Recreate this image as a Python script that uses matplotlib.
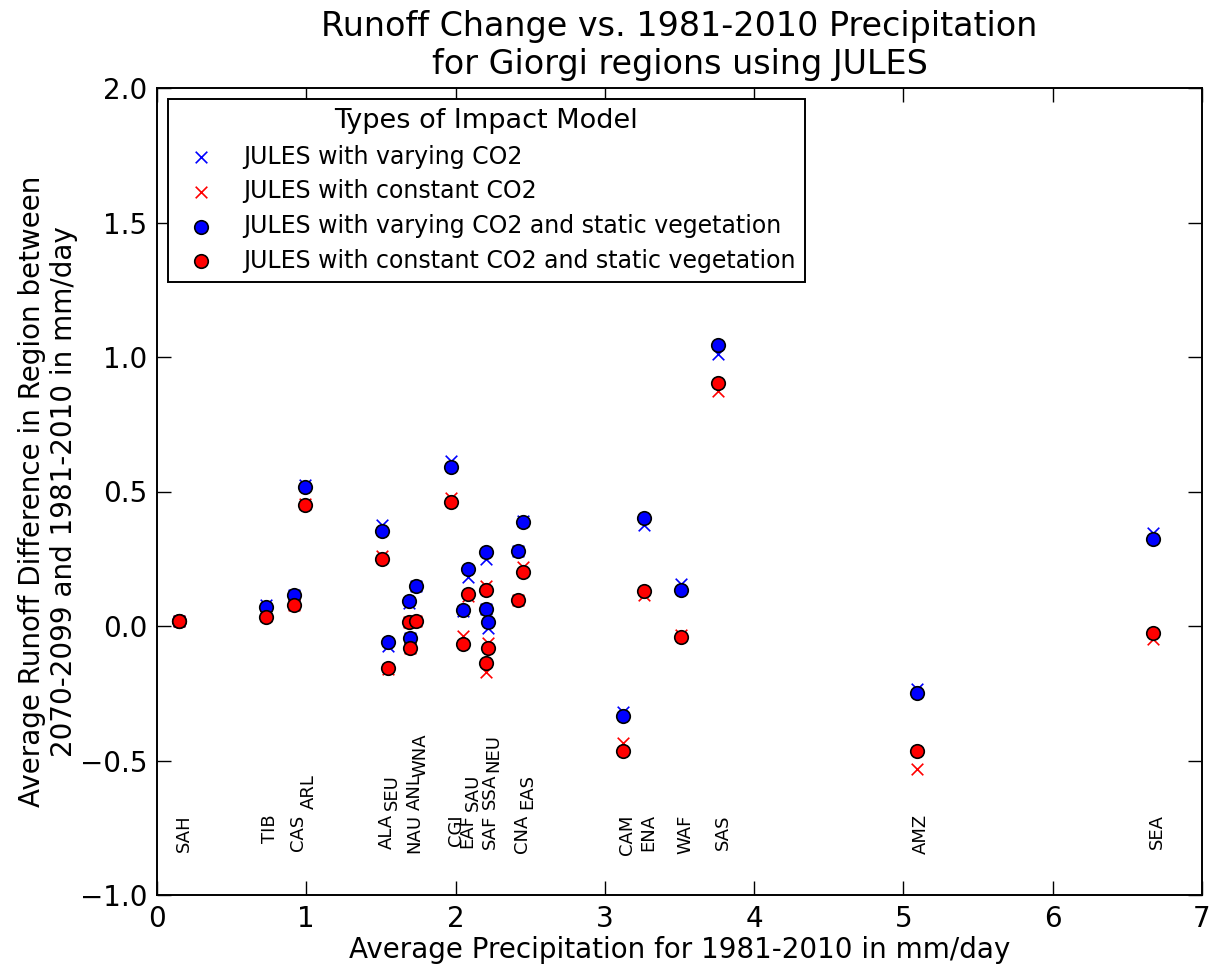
import matplotlib
matplotlib.use("Agg")
import matplotlib.pyplot as plt
import numpy as np

# Giorgi regions, 1981-2010 mean precipitation (mm/day)
regions = ["SAH", "TIB", "CAS", "ARL", "ALA", "SEU", "NAU", "ANL", "WNA",
           "CGI", "EAF", "SAU", "SAF", "SSA", "NEU", "CNA", "EAS",
           "CAM", "ENA", "WAF", "SAS", "AMZ", "SEA"]
precip = [0.15, 0.73, 0.915, 0.99, 1.51, 1.545, 1.69, 1.695, 1.737,
          1.97, 2.051, 2.086, 2.202, 2.202, 2.22, 2.418, 2.452,
          3.12, 3.26, 3.51, 3.76, 5.09, 6.67]

# runoff change 2070-2099 minus 1981-2010 (mm/day)
varying_co2 = [0.02, 0.078, 0.114, 0.525, 0.375, -0.075, 0.085, -0.046, 0.15,
               0.615, 0.055, 0.183, 0.062, 0.25, -0.009, 0.28, 0.39,
               -0.32, 0.375, 0.155, 1.01, -0.235, 0.345]
constant_co2 = [0.02, 0.037, 0.077, 0.455, 0.26, -0.16, 0.014, -0.083, 0.02,
                0.475, -0.037, 0.11, -0.17, 0.15, -0.065, 0.097, 0.22,
                -0.435, 0.115, -0.035, 0.875, -0.53, -0.05]
varying_co2_static = [0.02, 0.072, 0.114, 0.516, 0.353, -0.058, 0.094, -0.046, 0.15,
                      0.59, 0.06, 0.212, 0.062, 0.276, 0.015, 0.28, 0.387,
                      -0.335, 0.40, 0.135, 1.045, -0.25, 0.325]
constant_co2_static = [0.02, 0.035, 0.077, 0.45, 0.25, -0.157, 0.014, -0.083, 0.02,
                       0.46, -0.067, 0.119, -0.139, 0.134, -0.08, 0.097, 0.20,
                       -0.465, 0.13, -0.04, 0.905, -0.465, -0.025]

# stacking level of the region names so close ones don't overlap
label_level = [0, 0, 0, 1, 0, 1, 0, 1, 2,
               0, 0, 1, 0, 1, 2, 0, 1,
               0, 0, 0, 0, 0, 0]

fig = plt.figure(figsize=(12.11, 9.66), dpi=100)
ax = fig.add_axes([157 / 1211, 1 - 895 / 966, 1045 / 1211, 807 / 966])

ax.scatter(precip, varying_co2, marker="x", s=70, color="b", linewidths=1.2,
           label="JULES with varying CO2", zorder=2)
ax.scatter(precip, constant_co2, marker="x", s=70, color="r", linewidths=1.2,
           label="JULES with constant CO2", zorder=2)
ax.scatter(precip, varying_co2_static, marker="o", s=95, facecolor="b",
           edgecolor="k", linewidths=1.2,
           label="JULES with varying CO2 and static vegetation", zorder=3)
ax.scatter(precip, constant_co2_static, marker="o", s=95, facecolor="r",
           edgecolor="k", linewidths=1.2,
           label="JULES with constant CO2 and static vegetation", zorder=3)

# region names written vertically near the bottom
for name, xp, lev in zip(regions, precip, label_level):
    ax.text(xp + 0.03, -0.7 + 0.15 * lev, name, rotation=90, ha="center",
            va="top", fontsize=13)

ax.set_xlim(0, 7)
ax.set_ylim(-1.0, 2.0)
ax.set_yticks(np.arange(-1.0, 2.01, 0.5))
ax.tick_params(direction="in", length=10, width=1, top=True, right=True,
               labelsize=20, pad=7)
for sp in ax.spines.values():
    sp.set_linewidth(1.4)

ax.set_title("Runoff Change vs. 1981-2010 Precipitation\nfor Giorgi regions using JULES",
             fontsize=24, pad=10)
ax.set_xlabel("Average Precipitation for 1981-2010 in mm/day", fontsize=20,
              labelpad=2)
ax.set_ylabel("Average Runoff Difference in Region between\n2070-2099 and 1981-2010 in mm/day",
              fontsize=20, labelpad=1)

leg = ax.legend(loc="upper left", scatterpoints=1, fontsize=17,
                title="Types of Impact Model", title_fontsize=19.5,
                fancybox=False, framealpha=1, edgecolor="k", labelspacing=0.45,
                borderaxespad=0.45)
leg.get_frame().set_linewidth(1.4)

fig.savefig("out.png", dpi=100)
